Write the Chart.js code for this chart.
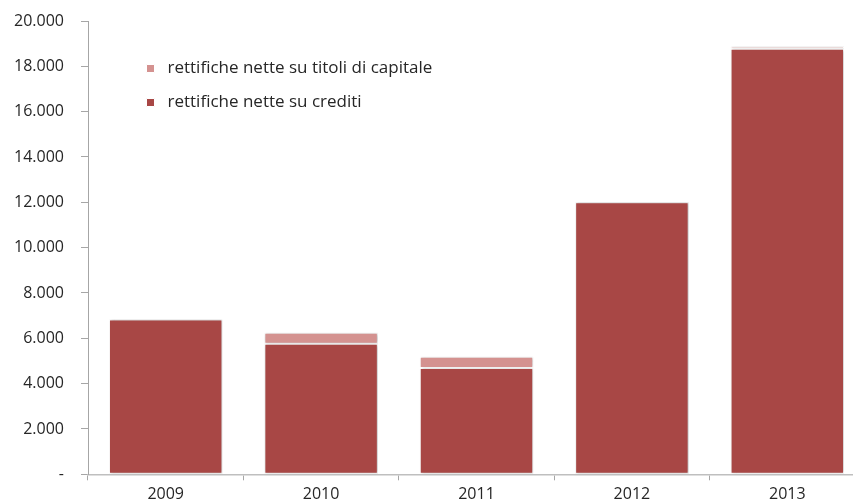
<!DOCTYPE html>
<html lang="it">
<head>
<meta charset="utf-8">
<title>Rettifiche nette</title>
<script src="https://cdn.jsdelivr.net/npm/chart.js@4.4.1/dist/chart.umd.min.js"></script>
<style>
  html, body { margin: 0; padding: 0; overflow: hidden; background: #fff; }
  #box { width: 866px; height: 503px; }
</style>
</head>
<body>
<div id="box"><canvas id="chart"></canvas></div>
<script>
// anni e rettifiche (milioni di euro)
const anni = ["2009", "2010", "2011", "2012", "2013"];
const rettificheCrediti = [6830, 5760, 4690, 12000, 18780];
const rettificheTitoli = [null, 490, 500, null, 90];
const tickY = [0, 2000, 4000, 6000, 8000, 10000, 12000, 14000, 16000, 18000, 20000];

const ROSSO = "#a84745";
const ROSA = "#d49290";
const FONT = "'Open Sans', sans-serif";

// separatore delle migliaia all'italiana, "-" per lo zero
function formatta(v) {
  if (v === 0) return "-";
  return String(v).replace(/\B(?=(\d{3})+(?!\d))/g, ".");
}

// leggera ombra intorno alle barre
const ombra = {
  id: "ombra",
  beforeDatasetsDraw(chart) {
    const c = chart.ctx;
    c.save();
    c.shadowColor = "rgba(0,0,0,0.28)";
    c.shadowBlur = 3;
    c.shadowOffsetX = 1;
    c.shadowOffsetY = 0;
  },
  afterDatasetsDraw(chart) {
    chart.ctx.restore();
  }
};

// legenda dentro l'area del grafico, in alto a sinistra
const legendaDentro = {
  id: "legendaDentro",
  afterLayout(chart) {
    chart.legend.left = chart.chartArea.left + 37;
    chart.legend.top = chart.chartArea.top + 22;
  }
};

let chartCtx = document.getElementById("chart").getContext("2d");
let graficoRettifiche = new Chart(chartCtx, {
  type: "bar",
  data: {
    labels: anni,
    datasets: [{
      label: "rettifiche nette su crediti",
      data: rettificheCrediti,
      backgroundColor: ROSSO,
      borderColor: "#ffffff",
      borderWidth: 1,
      borderSkipped: false
    }, {
      label: "rettifiche nette su titoli di capitale",
      data: rettificheTitoli,
      backgroundColor: ROSA,
      borderColor: "#ffffff",
      borderWidth: 1,
      borderSkipped: false
    }]
  },
  options: {
    responsive: true,
    maintainAspectRatio: false,
    animation: false,
    layout: { padding: { top: 21, right: 1, bottom: -6.5, left: 0 } },
    datasets: {
      bar: { barPercentage: 0.73, categoryPercentage: 1 }
    },
    plugins: {
      legend: {
        position: "chartArea",
        align: "start",
        reverse: true,
        labels: {
          usePointStyle: true,
          pointStyle: "rect",
          boxWidth: 17,
          boxHeight: 8,
          padding: 17,
          color: "#262626",
          font: { family: FONT, size: 17 }
        }
      },
      tooltip: { enabled: false }
    },
    scales: {
      x: {
        stacked: true,
        grid: {
          drawOnChartArea: false,
          tickLength: 6,
          color: "#a6a6a6"
        },
        border: { color: "#bfbfbf", width: 1.5 },
        ticks: {
          padding: 5,
          color: "#262626",
          font: { family: FONT, size: 16 }
        }
      },
      y: {
        stacked: true,
        min: 0,
        max: 20000,
        afterFit(scale) {
          scale.width = 88;
          scale.paddingTop = 0;
        },
        afterBuildTicks(scale) { scale.ticks = tickY.map(v => ({ value: v })); },
        grid: {
          drawOnChartArea: false,
          tickLength: 7,
          color: "#a6a6a6"
        },
        border: { color: "#a6a6a6" },
        ticks: {
          padding: 17,
          color: "#262626",
          font: { family: FONT, size: 16 },
          callback: (v) => formatta(v)
        }
      }
    }
  },
  plugins: [ombra, legendaDentro]
});
</script>
</body>
</html>
